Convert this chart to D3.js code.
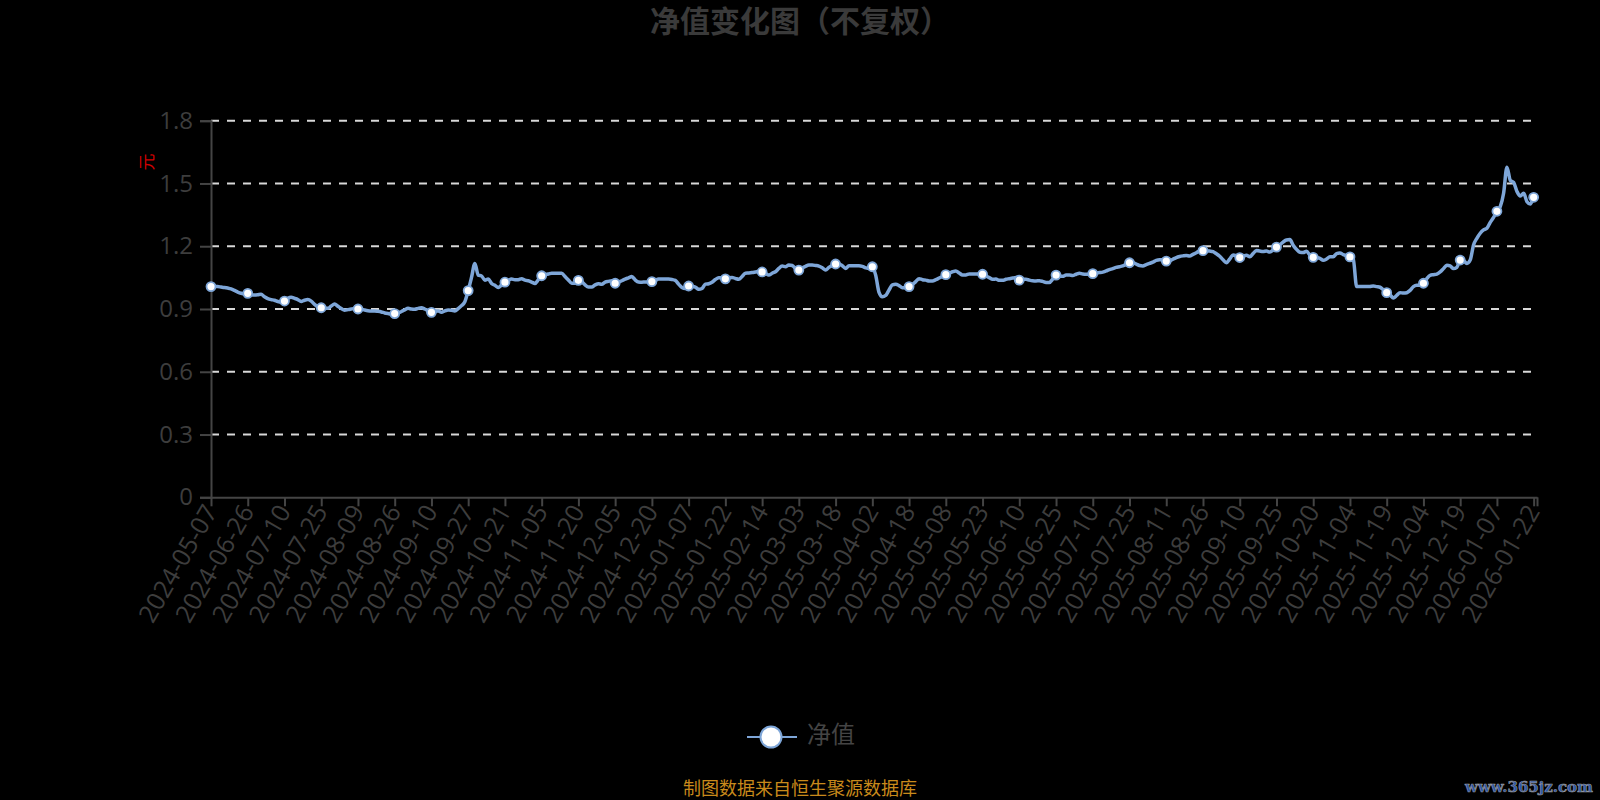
<!DOCTYPE html>
<html>
<head>
<meta charset="utf-8">
<script src="https://cdn.jsdelivr.net/npm/d3@7"></script>
<style>
  html, body { margin: 0; padding: 0; background: #000; }
  svg { display: block; }
  text { font-family: "Open Sans", "Noto Sans CJK SC", sans-serif; }
</style>
</head>
<body>
<div id="chart"></div>
<script>
// tick labels shown on the x axis (every 11th trading day)
const tickLabels = [
  "2024-05-07","2024-06-26","2024-07-10","2024-07-25","2024-08-09","2024-08-26",
  "2024-09-10","2024-09-27","2024-10-21","2024-11-05","2024-11-20","2024-12-05",
  "2024-12-20","2025-01-07","2025-01-22","2025-02-14","2025-03-03","2025-03-18",
  "2025-04-02","2025-04-18","2025-05-08","2025-05-23","2025-06-10","2025-06-25",
  "2025-07-10","2025-07-25","2025-08-11","2025-08-26","2025-09-10","2025-09-25",
  "2025-10-20","2025-11-04","2025-11-19","2025-12-04","2025-12-19","2026-01-07",
  "2026-01-22"
];

const yTicks = [0, 0.3, 0.6, 0.9, 1.2, 1.5, 1.8];

// 净值, one value per trading day
const values = [
  1.007,1.007,1.007,1.005,1.003,1.000,0.996,0.989,0.981,0.975,
  0.972,0.975,0.968,0.967,0.968,0.970,0.959,0.950,0.945,0.942,
  0.936,0.933,0.938,0.951,0.956,0.951,0.945,0.936,0.942,0.945,
  0.938,0.922,0.911,0.906,0.903,0.903,0.914,0.924,0.913,0.902,
  0.894,0.897,0.900,0.902,0.900,0.899,0.895,0.892,0.891,0.891,
  0.889,0.886,0.881,0.878,0.876,0.878,0.881,0.888,0.896,0.903,
  0.900,0.899,0.903,0.906,0.900,0.892,0.884,0.889,0.891,0.884,
  0.891,0.895,0.894,0.891,0.902,0.916,0.935,0.988,1.051,1.118,
  1.062,1.058,1.038,1.043,1.022,1.013,1.003,1.015,1.028,1.037,
  1.043,1.040,1.040,1.045,1.038,1.035,1.029,1.022,1.040,1.059,
  1.064,1.067,1.071,1.071,1.071,1.071,1.055,1.039,1.023,1.023,
  1.037,1.031,1.015,1.005,1.005,1.015,1.021,1.018,1.028,1.032,
  1.035,1.023,1.029,1.035,1.043,1.049,1.055,1.039,1.029,1.028,
  1.029,1.029,1.031,1.037,1.043,1.043,1.043,1.043,1.041,1.037,
  1.019,1.003,0.998,1.010,1.008,1.005,0.994,0.998,1.019,1.021,
  1.028,1.041,1.049,1.049,1.044,1.048,1.051,1.046,1.042,1.055,
  1.071,1.072,1.074,1.077,1.080,1.077,1.071,1.062,1.071,1.078,
  1.094,1.105,1.102,1.110,1.108,1.094,1.086,1.096,1.104,1.110,
  1.110,1.108,1.105,1.097,1.086,1.099,1.108,1.115,1.115,1.107,
  1.094,1.107,1.107,1.107,1.107,1.104,1.097,1.093,1.102,1.062,
  0.980,0.959,0.965,0.991,1.015,1.018,1.012,1.002,1.002,1.007,
  1.016,1.031,1.045,1.040,1.038,1.034,1.034,1.040,1.048,1.056,
  1.064,1.071,1.078,1.082,1.072,1.063,1.063,1.067,1.067,1.067,
  1.067,1.066,1.058,1.050,1.042,1.043,1.037,1.037,1.042,1.045,
  1.048,1.050,1.038,1.042,1.042,1.038,1.035,1.034,1.035,1.032,
  1.027,1.027,1.043,1.062,1.058,1.056,1.062,1.062,1.060,1.066,
  1.071,1.067,1.066,1.067,1.069,1.072,1.074,1.076,1.082,1.088,
  1.093,1.099,1.102,1.106,1.113,1.121,1.121,1.115,1.108,1.106,
  1.112,1.118,1.124,1.132,1.135,1.135,1.129,1.130,1.138,1.146,
  1.151,1.154,1.156,1.153,1.161,1.169,1.179,1.179,1.179,1.177,
  1.174,1.164,1.152,1.135,1.121,1.139,1.158,1.154,1.146,1.152,
  1.157,1.150,1.165,1.180,1.177,1.175,1.177,1.172,1.182,1.196,
  1.207,1.220,1.230,1.232,1.205,1.185,1.171,1.170,1.176,1.157,
  1.147,1.145,1.142,1.133,1.139,1.150,1.150,1.165,1.168,1.160,
  1.154,1.149,1.138,1.007,1.007,1.007,1.007,1.008,1.010,1.007,
  1.004,0.992,0.978,0.967,0.953,0.965,0.978,0.976,0.978,0.989,
  1.007,1.013,1.013,1.023,1.045,1.061,1.064,1.067,1.077,1.093,
  1.109,1.106,1.093,1.099,1.134,1.131,1.118,1.134,1.206,1.238,
  1.262,1.278,1.286,1.314,1.338,1.367,1.389,1.453,1.578,1.515,
  1.505,1.462,1.440,1.453,1.413,1.402,1.434,1.445
];

const W = 1600, H = 800;
const plotLeft = 211, plotRight = 1537, plotTop = 120.7, plotBottom = 497.3;
const labelStep = 11;
const lineColor = "#7ea6d8";

const svg = d3.select("#chart").append("svg")
  .attr("width", W).attr("height", H)
  .style("background", "#000");

const x = d3.scalePoint().domain(d3.range(values.length)).range([plotLeft, plotRight]);
const y = d3.scaleLinear().domain([0, 1.8]).range([plotBottom, plotTop]);

// title
svg.append("text")
  .attr("x", 800).attr("y", 24)
  .attr("text-anchor", "middle").attr("dominant-baseline", "middle")
  .style("font-size", "30px").style("font-weight", "bold")
  .style("font-family", "'Noto Sans CJK SC', sans-serif")
  .attr("fill", "#3a3a3a")
  .text("净值变化图（不复权）");

// dashed grid
svg.append("g").selectAll("line")
  .data(yTicks.filter(d => d > 0))
  .enter().append("line")
  .attr("x1", plotLeft).attr("x2", plotRight)
  .attr("y1", d => y(d)).attr("y2", d => y(d))
  .attr("stroke", "#d8d8d8").attr("stroke-width", 2)
  .attr("stroke-dasharray", "8,8");

// y axis
const yAxis = svg.append("g")
  .attr("transform", `translate(${plotLeft},0)`)
  .call(d3.axisLeft(y).tickValues(yTicks)
    .tickFormat(d => d === 0 ? "0" : d3.format(".1f")(d))
    .tickSize(11).tickPadding(7));
yAxis.select(".domain").attr("stroke", "#444").attr("stroke-width", 2);
yAxis.selectAll(".tick line").attr("stroke", "#444").attr("stroke-width", 2);
yAxis.selectAll("text").attr("fill", "#3d3d3d").style("font-size", "24px");

// y axis name
svg.append("text")
  .attr("transform", "translate(148,162) rotate(-90)")
  .attr("text-anchor", "middle").attr("dominant-baseline", "middle")
  .style("font-size", "17px").attr("fill", "#d00000")
  .text("元");

// x axis
const tickIdx = tickLabels.map((d, i) => i * labelStep);
const xAxis = svg.append("g")
  .attr("transform", `translate(0,${plotBottom})`)
  .call(d3.axisBottom(x).tickValues(tickIdx.concat([values.length - 1]))
    .tickFormat(i => i % labelStep === 0 ? tickLabels[i / labelStep] : "")
    .tickSize(9).tickSizeOuter(0));
xAxis.select(".domain").attr("stroke", "#444").attr("stroke-width", 2);
xAxis.selectAll(".tick line").attr("stroke", "#444").attr("stroke-width", 2);
xAxis.selectAll("text")
  .attr("fill", "#3d3d3d").style("font-size", "25px")
  .attr("text-anchor", "end")
  .attr("dy", "0.35em")
  .attr("transform", "translate(0,8) rotate(-60)")
  .attr("y", 0).attr("x", -2);

// the net value line
const line = d3.line()
  .x((d, i) => x(i))
  .y(d => y(d))
  .curve(d3.curveMonotoneX);

svg.append("path")
  .datum(values)
  .attr("d", line)
  .attr("fill", "none")
  .attr("stroke", lineColor)
  .attr("stroke-width", 3.5)
  .attr("stroke-linejoin", "round");

// markers only on labelled days
svg.append("g").selectAll("circle")
  .data(tickIdx)
  .enter().append("circle")
  .attr("cx", i => x(i)).attr("cy", i => y(values[i]))
  .attr("r", 4.5).attr("fill", "#fff")
  .attr("stroke", lineColor).attr("stroke-width", 1.8);

// legend
const lg = svg.append("g");
lg.append("line")
  .attr("x1", 747).attr("x2", 797).attr("y1", 737).attr("y2", 737)
  .attr("stroke", lineColor).attr("stroke-width", 2);
lg.append("circle")
  .attr("cx", 771).attr("cy", 737).attr("r", 10.5)
  .attr("fill", "#fff").attr("stroke", lineColor).attr("stroke-width", 2);
lg.append("text")
  .attr("x", 807).attr("y", 737).attr("dominant-baseline", "middle")
  .style("font-size", "24px").attr("fill", "#444")
  .text("净值");

// source note
svg.append("text")
  .attr("x", 800).attr("y", 790)
  .attr("text-anchor", "middle").attr("dominant-baseline", "middle")
  .style("font-size", "18px").attr("fill", "#c98a1b")
  .text("制图数据来自恒生聚源数据库");

// watermark
svg.append("text")
  .attr("x", 1593).attr("y", 792)
  .attr("text-anchor", "end")
  .style("font-size", "15px").style("font-weight", "bold")
  .style("font-family", "'DejaVu Serif', serif")
  .attr("fill", "#2b55a8").attr("stroke", "#9a9a9a").attr("stroke-width", 0.6)
  .text("www.365jz.com");
</script>
</body>
</html>
